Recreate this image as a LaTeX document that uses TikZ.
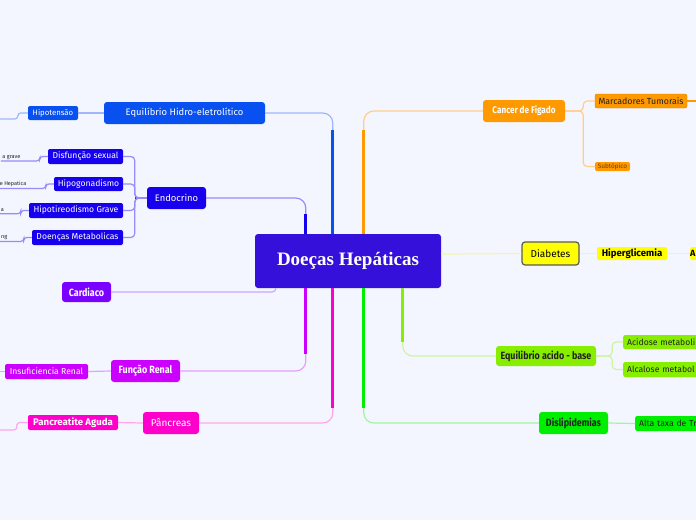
\documentclass[tikz,border=0pt]{standalone}
\usepackage{fontspec}
\setmainfont{Fira Sans}
\newfontfamily\titlefont{Liberation Serif}
\newfontfamily\narrowfont[FakeStretch=0.85]{Fira Sans}
\definecolor{bgpage}{RGB}{243,246,254}
\definecolor{rootcol}{RGB}{52,16,218}
\definecolor{hidro}{RGB}{8,80,240}
\definecolor{hidrol}{RGB}{160,182,250}
\definecolor{endo}{RGB}{22,0,238}
\definecolor{endol}{RGB}{150,140,250}
\definecolor{cardio}{RGB}{122,0,255}
\definecolor{cardiol}{RGB}{200,165,255}
\definecolor{renal}{RGB}{204,0,255}
\definecolor{renall}{RGB}{228,160,255}
\definecolor{panc}{RGB}{255,0,204}
\definecolor{pancl}{RGB}{255,165,235}
\definecolor{cancer}{RGB}{255,153,0}
\definecolor{cancerl}{RGB}{255,205,140}
\definecolor{diab}{RGB}{255,255,0}
\definecolor{diabl}{RGB}{245,245,165}
\definecolor{acido}{RGB}{136,238,0}
\definecolor{acidol}{RGB}{205,245,160}
\definecolor{lipid}{RGB}{0,238,0}
\definecolor{lipidl}{RGB}{160,245,160}
\definecolor{inkdark}{RGB}{34,34,34}

\begin{document}
\begin{tikzpicture}[x=1pt, y=-1pt,
  topic/.style={rounded corners=3pt, inner sep=0pt, minimum height=22, text=white, font=\fontsize{9.4}{11}\selectfont},
  narrowtopic/.style={topic, font=\narrowfont\bfseries\fontsize{10.5}{12}\selectfont},
  sub/.style={rounded corners=2pt, inner sep=0pt, minimum height=15, text=white, font=\fontsize{8.6}{10}\selectfont},
  cutsub/.style={sub, anchor=west, text width=80, align=left, inner xsep=4pt},
  tinytext/.style={inner sep=1.5pt, text=inkdark, font=\fontsize{5.5}{6}\selectfont},
  link/.style={line width=1.2pt, rounded corners=10pt},
  trunk/.style={line width=3pt}]
\useasboundingbox (0,0) rectangle (696,520);
\clip (0,0) rectangle (696,520);
\fill[bgpage] (0,0) rectangle (696,520);

\node[fill=rootcol, rounded corners=3pt, minimum width=186, minimum height=54, text=white,
  font=\titlefont\bfseries\fontsize{19}{22}\selectfont] (root) at (348,261) {Doeças Hepáticas};

% left side
\node[topic, fill=hidro, minimum width=161] (hidro) at (184.5,113) {Equilíbrio Hidro-eletrolítico};
\node[sub, fill=hidro, minimum width=50, minimum height=14, font=\fontsize{7.8}{9}\selectfont] (hipotensao) at (53,113) {Hipotensão};
\coordinate (hipo-end) at (0,119);

\node[topic, fill=endo, minimum width=59] (endocrino) at (176.5,198) {Endocrino};
\node[sub, fill=endo, minimum width=75] (disfuncao) at (85.5,156.5) {Disfunção sexual};
\node[sub, fill=endo, minimum width=69, minimum height=14] (hipogon) at (88.5,184) {Hipogonadismo};
\node[sub, fill=endo, minimum width=94] (hipotir) at (76,210.5) {Hipotireodismo Grave};
\node[sub, fill=endo, minimum width=91] (doencas) at (77.5,237.5) {Doenças Metabolicas};
\node[tinytext, anchor=east] (disf-x) at (22,157) {a grave};
\node[tinytext, anchor=east] (hipog-x) at (28,184) {e Hepatica};
\node[tinytext, anchor=east] (hipot-x) at (5.5,210.5) {a};
\node[tinytext, anchor=east] (doen-x) at (9,237.5) {ng};

\node[narrowtopic, fill=cardio, minimum width=49, minimum height=20] (cardiaco) at (86.5,292) {Cardiaco};

\node[narrowtopic, fill=renal, minimum width=69] (renal) at (145.5,371) {Função Renal};
\node[sub, fill=renal, minimum width=83] (insuf) at (46.5,371.5) {Insuficiencia Renal};
\coordinate (insuf-end) at (0,371.5);

\node[topic, fill=panc, minimum width=56, font=\fontsize{10}{11}\selectfont] (pancreas) at (171,423) {Pâncreas};
\node[sub, fill=panc, minimum width=90, font=\bfseries\fontsize{9.6}{10}\selectfont] (pancreatite) at (73,422.5) {Pancreatite Aguda};
\coordinate (panc-end) at (0,430);

% right side
\node[narrowtopic, fill=cancer, minimum width=82, font=\narrowfont\bfseries\fontsize{9.6}{11}\selectfont] (cancer) at (524,111) {Cancer de Figado};
\node[sub, fill=cancer, draw=cancer!85!black, line width=0.4pt, text=inkdark, minimum width=92, minimum height=14,
  font=\fontsize{8.8}{10}\selectfont] (marcadores) at (641,101) {Marcadores Tumorais};
\coordinate (marc-end) at (696,101);
\node[sub, fill=cancer, text=cancer!40!black, minimum width=35, minimum height=9,
  font=\fontsize{6.4}{7}\selectfont] (subtopico) at (612.5,166.5) {Subtópico};

\node[topic, fill=diab, draw=black!65, line width=1.2pt, text=black, minimum width=57, minimum height=23,
  font=\fontsize{10}{11}\selectfont] (diabetes) at (550.5,253.5) {Diabetes};
\node[sub, fill=diab, text=black, minimum width=70, minimum height=13, font=\bfseries\fontsize{9.6}{10}\selectfont] (hiperglic) at (632,253.5) {Hiperglicemia};
\node[cutsub, fill=diab, text=black, minimum height=13, inner xsep=0pt, font=\bfseries\fontsize{9}{10}\selectfont] (hiper-next) at (690,253.5) {A};

\node[narrowtopic, fill=acido, text=inkdark, minimum width=100, minimum height=20] (acido) at (546,356) {Equilibrio acido - base};
\node[cutsub, fill=acido, text=inkdark, minimum height=14] (acidose) at (623,342) {Acidose metaboli};
\node[cutsub, fill=acido, text=inkdark] (alcalose) at (623,369.5) {Alcalose metabol};

\node[narrowtopic, fill=lipid, text=inkdark, minimum width=69] (dislip) at (573.5,423) {Dislipidemias};
\node[cutsub, fill=lipid, text=inkdark] (alta) at (635,423.5) {Alta taxa de Tr};

% branches to the root
\draw[link, hidrol] ([xshift=78]root.north west) |- (hidro.east);
\draw[trunk, hidro] ([xshift=78]root.north west) -- ++(0,-104);
\draw[link, endol] ([xshift=51]root.north west) |- (endocrino.east);
\draw[trunk, endo] ([xshift=51]root.north west) -- ++(0,-20);
\draw[link, cardiol] (cardiaco.east) -- ++(150,0) .. controls +(10,0) and +(0,4) .. ([xshift=21]root.south west);
\draw[link, renall] ([xshift=51]root.south west) |- (renal.east);
\draw[trunk, renal] ([xshift=51]root.south west) -- ++(0,66);
\draw[link, pancl] ([xshift=78]root.south west) |- (pancreas.east);
\draw[trunk, panc] ([xshift=78]root.south west) -- ++(0,120);
\draw[link, cancerl] ([xshift=109]root.north west) |- (cancer.west);
\draw[trunk, cancer] ([xshift=109]root.north west) -- ++(0,-104);
\draw[link, diabl] ([yshift=7]root.east) -- (diabetes.west);
\draw[link, lipidl] ([xshift=109]root.south west) |- (dislip.west);
\draw[trunk, lipid] ([xshift=109]root.south west) -- ++(0,120);
\draw[link, acidol] ([xshift=148]root.south west) |- (acido.west);
\draw[trunk, acido] ([xshift=148]root.south west) -- ++(0,54);

% sub branches
\draw[link, hidrol] (hidro.west) -- (hipotensao.east);
\draw[link, hidrol, rounded corners=3pt] (hipotensao.west) -- ++(-10,0) |- (hipo-end);
\draw[endo, line width=2pt] (endocrino.west) -- ++(-12,0);
\foreach \k/\x in {disfuncao/disf-x, hipogon/hipog-x, hipotir/hipot-x, doencas/doen-x} {
  \draw[link, endol, rounded corners=4pt] (endocrino.west) -- ++(-12,0) |- (\k.east);
  \draw[link, endol, rounded corners=3pt] (\k.west) -- ++(-8,0) |- (\x.south west);
}
\draw[link, renall] (renal.west) -- (insuf.east);
\draw[link, renall] (insuf.west) -- (insuf-end);
\draw[link, pancl] (pancreas.west) -- (pancreatite.east);
\draw[link, pancl, rounded corners=3pt] (pancreatite.west) -- ++(-11,0) |- (panc-end);
\draw[link, cancerl, rounded corners=4pt] (cancer.east) -- ++(18,0) |- (marcadores.west);
\draw[link, cancerl, rounded corners=4pt] (cancer.east) -- ++(18,0) |- (subtopico.west);
\draw[link, cancer] (marcadores.east) -- (marc-end);
\draw[link, diabl] (diabetes.east) -- (hiperglic.west);
\draw[link, diabl] (hiperglic.east) -- (hiper-next.west);
\draw[link, acidol, rounded corners=4pt] (acido.east) -- ++(16,0) |- (acidose.west);
\draw[link, acidol, rounded corners=4pt] (acido.east) -- ++(16,0) |- (alcalose.west);
\draw[link, lipidl] (dislip.east) -- (alta.west);
\end{tikzpicture}
\end{document}
